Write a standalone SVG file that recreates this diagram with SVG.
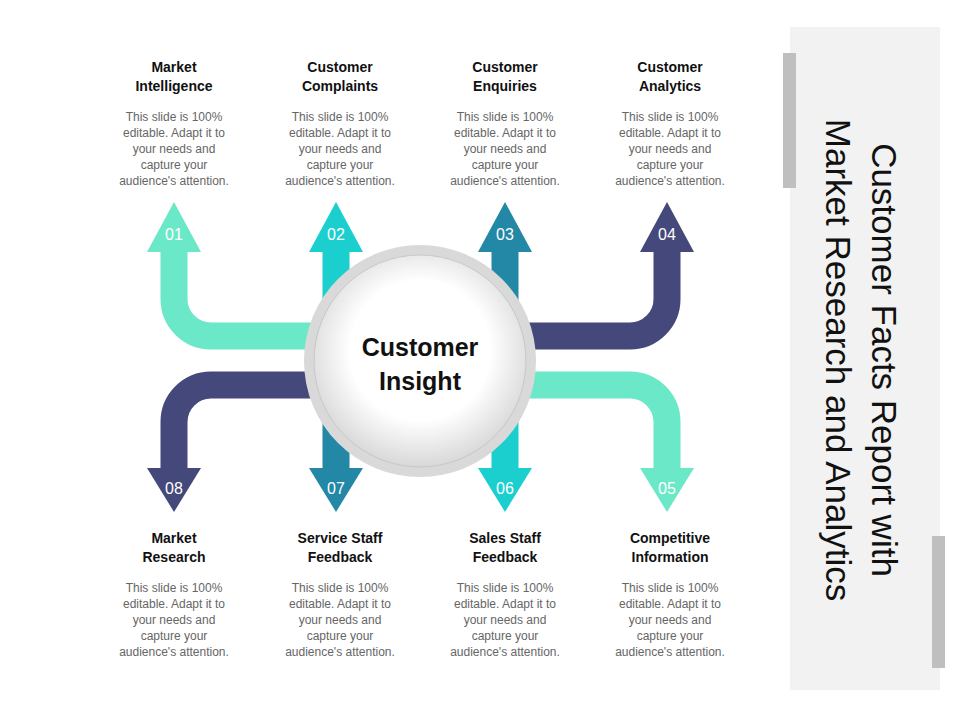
<svg xmlns="http://www.w3.org/2000/svg" width="960" height="720" viewBox="0 0 960 720">
<defs>
<style>
.t{font-family:"Liberation Sans",Arial,sans-serif;font-weight:bold;font-size:14px;fill:#111;text-anchor:middle}
.b{font-family:"Liberation Sans",Arial,sans-serif;font-size:12px;fill:#666;text-anchor:middle}
.n{font-family:"Liberation Sans",Arial,sans-serif;font-size:16px;fill:#fff;text-anchor:middle}
.s{fill:none;stroke-width:27}
</style>
<radialGradient id="g" cx="50%" cy="45%" r="55%">
<stop offset="0.6" stop-color="#ffffff"/><stop offset="1" stop-color="#d8d8d8"/>
</radialGradient>
</defs>
<rect width="960" height="720" fill="#fff"/>
<g id="panel">
<rect x="790" y="27" width="150" height="663" fill="#f2f2f2"/>
<rect x="783" y="53" width="13" height="135" fill="#bfbfbf"/>
<rect x="932" y="536" width="13" height="132" fill="#bfbfbf"/>
<text transform="translate(872,360) rotate(90)" font-family="Liberation Sans,Arial,sans-serif" font-size="35" fill="#111" text-anchor="middle"><tspan x="0" y="0">Customer Facts Report with</tspan><tspan x="0" y="46">Market Research and Analytics</tspan></text>
</g>
<g id="connectors">
<path class="s" stroke="#6BE8C8" d="M174 250 V299 A37 37 0 0 0 211 336 H330"/>
<polygon fill="#6BE8C8" points="147,252 174,202 201,252"/>
<path class="s" stroke="#1CCFCF" d="M336 250 V330"/>
<polygon fill="#1CCFCF" points="309,252 336,202 363,252"/>
<path class="s" stroke="#2288A5" d="M505 250 V330"/>
<polygon fill="#2288A5" points="478,252 505,202 532,252"/>
<path class="s" stroke="#45487A" d="M667 250 V299 A37 37 0 0 1 630 336 H510"/>
<polygon fill="#45487A" points="640,252 667,202 694,252"/>
<path class="s" stroke="#45487A" d="M330 385 H211 A37 37 0 0 0 174 422 V470"/>
<polygon fill="#45487A" points="147,468 174,512 201,468"/>
<path class="s" stroke="#2288A5" d="M336 400 V470"/>
<polygon fill="#2288A5" points="309,468 336,512 363,468"/>
<path class="s" stroke="#1CCFCF" d="M505 400 V470"/>
<polygon fill="#1CCFCF" points="478,468 505,512 532,468"/>
<path class="s" stroke="#6BE8C8" d="M510 385 H630 A37 37 0 0 1 667 422 V470"/>
<polygon fill="#6BE8C8" points="640,468 667,512 694,468"/>
<text class="n" x="174" y="240">01</text><text class="n" x="336" y="240">02</text><text class="n" x="505" y="240">03</text><text class="n" x="667" y="240">04</text>
<text class="n" x="174" y="494">08</text><text class="n" x="336" y="494">07</text><text class="n" x="505" y="494">06</text><text class="n" x="667" y="494">05</text>
</g>
<g id="center">
<circle cx="420" cy="361" r="116" fill="#d9d9d9"/>
<circle cx="420" cy="361" r="106" fill="url(#g)" stroke="#c8c8c8" stroke-width="1"/>
<text class="t" style="font-size:25px" x="420" y="356">Customer</text>
<text class="t" style="font-size:25px" x="420" y="390">Insight</text>
</g>
<g id="n1"><text class="t" x="174" y="72">Market</text><text class="t" x="174" y="91">Intelligence</text>
<text class="b" x="174" y="121">This slide is 100%</text><text class="b" x="174" y="137">editable. Adapt it to</text><text class="b" x="174" y="153">your needs and</text><text class="b" x="174" y="169">capture your</text><text class="b" x="174" y="185">audience's attention.</text></g>
<g id="n2"><text class="t" x="340" y="72">Customer</text><text class="t" x="340" y="91">Complaints</text>
<text class="b" x="340" y="121">This slide is 100%</text><text class="b" x="340" y="137">editable. Adapt it to</text><text class="b" x="340" y="153">your needs and</text><text class="b" x="340" y="169">capture your</text><text class="b" x="340" y="185">audience's attention.</text></g>
<g id="n3"><text class="t" x="505" y="72">Customer</text><text class="t" x="505" y="91">Enquiries</text>
<text class="b" x="505" y="121">This slide is 100%</text><text class="b" x="505" y="137">editable. Adapt it to</text><text class="b" x="505" y="153">your needs and</text><text class="b" x="505" y="169">capture your</text><text class="b" x="505" y="185">audience's attention.</text></g>
<g id="n4"><text class="t" x="670" y="72">Customer</text><text class="t" x="670" y="91">Analytics</text>
<text class="b" x="670" y="121">This slide is 100%</text><text class="b" x="670" y="137">editable. Adapt it to</text><text class="b" x="670" y="153">your needs and</text><text class="b" x="670" y="169">capture your</text><text class="b" x="670" y="185">audience's attention.</text></g>
<g id="n8"><text class="t" x="174" y="543">Market</text><text class="t" x="174" y="562">Research</text>
<text class="b" x="174" y="592">This slide is 100%</text><text class="b" x="174" y="608">editable. Adapt it to</text><text class="b" x="174" y="624">your needs and</text><text class="b" x="174" y="640">capture your</text><text class="b" x="174" y="656">audience's attention.</text></g>
<g id="n7"><text class="t" x="340" y="543">Service Staff</text><text class="t" x="340" y="562">Feedback</text>
<text class="b" x="340" y="592">This slide is 100%</text><text class="b" x="340" y="608">editable. Adapt it to</text><text class="b" x="340" y="624">your needs and</text><text class="b" x="340" y="640">capture your</text><text class="b" x="340" y="656">audience's attention.</text></g>
<g id="n6"><text class="t" x="505" y="543">Sales Staff</text><text class="t" x="505" y="562">Feedback</text>
<text class="b" x="505" y="592">This slide is 100%</text><text class="b" x="505" y="608">editable. Adapt it to</text><text class="b" x="505" y="624">your needs and</text><text class="b" x="505" y="640">capture your</text><text class="b" x="505" y="656">audience's attention.</text></g>
<g id="n5"><text class="t" x="670" y="543">Competitive</text><text class="t" x="670" y="562">Information</text>
<text class="b" x="670" y="592">This slide is 100%</text><text class="b" x="670" y="608">editable. Adapt it to</text><text class="b" x="670" y="624">your needs and</text><text class="b" x="670" y="640">capture your</text><text class="b" x="670" y="656">audience's attention.</text></g>
</svg>
